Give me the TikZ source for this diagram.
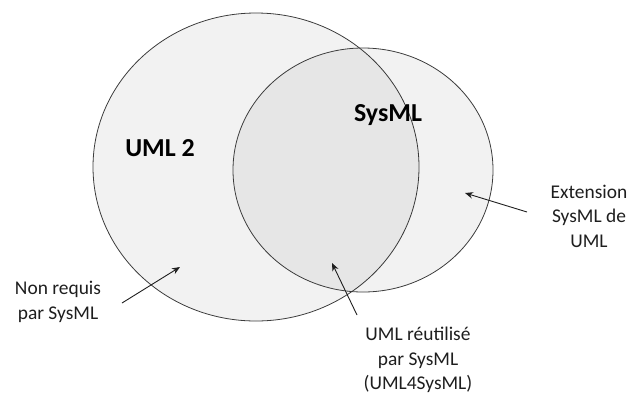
\documentclass[tikz,border=0pt]{standalone}
\usepackage{fontspec}
\setmainfont{Carlito}
\usepackage{tikz}
\usetikzlibrary{arrows.meta,positioning}
\definecolor{rim}{RGB}{60,60,60}
\definecolor{ink}{RGB}{30,30,30}

\tikzset{
  note/.style={font=\fontsize{19.5}{24.5}\selectfont,align=center,inner sep=0pt,text=ink},
  setname/.style={font=\fontsize{26}{30}\selectfont\bfseries,inner sep=0pt,text=black},
  pointer/.style={-{Stealth[length=8bp,width=6.5bp]},line width=0.9pt,draw=ink}
}

\begin{document}
\begin{tikzpicture}[x=1bp,y=-1bp]
  \useasboundingbox (0,0) rectangle (632,394);
  % the two sets
  \filldraw[fill=black,fill opacity=0.05,draw=rim,line width=0.8pt] (256,167) ellipse [x radius=163,y radius=154];
  \filldraw[fill=black,fill opacity=0.05,draw=rim,line width=0.8pt] (363,170) ellipse [x radius=130,y radius=122];
  \node[setname] (uml) at (160,148) {UML 2};
  \node[setname] (sysml) at (388,115) {SysML};
  % notes
  \node[note] (nonreq) at (58,302) {Non requis\\par SysML};
  \node[note] (reuse) at (418,360) {UML réutilisé\\par SysML\\(UML4SysML)};
  \node[note] (ext) at (589,216) {Extension\\SysML de\\UML};
  \coordinate (nonreqTail) at (122,303);
  \coordinate (nonreqTip) at (180,267);
  \coordinate (reuseTail) at (357,315);
  \coordinate (reuseTip) at (332,263);
  \coordinate (extTail) at (527,212);
  \coordinate (extTip) at (465,193);
  \draw[pointer] (nonreqTail) -- (nonreqTip);
  \draw[pointer] (reuseTail) -- (reuseTip);
  \draw[pointer] (extTail) -- (extTip);
\end{tikzpicture}
\end{document}
